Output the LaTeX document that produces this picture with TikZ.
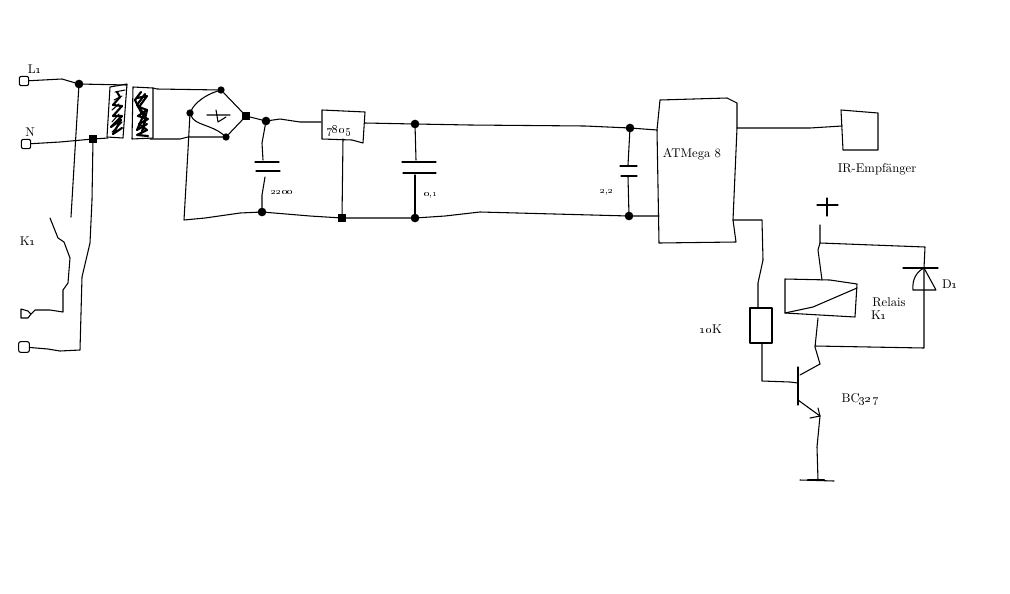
\documentclass[tikz,border=0pt]{standalone}
\tikzset{
  wire/.style={line width=0.8pt,black,line join=round,line cap=round},
  heavy/.style={line width=1.6pt,black,line join=round,line cap=round},
  junct/.style={circle,fill=black,inner sep=0pt,minimum size=6.5pt,outer sep=0pt},
  squarej/.style={rectangle,fill=black,inner sep=0pt,minimum size=5.5pt,outer sep=0pt},
  term/.style={draw=black,line width=0.8pt,fill=white,rounded corners=1.5pt,inner sep=0pt,minimum width=7pt,minimum height=7pt,outer sep=0pt},
  lab/.style={inner sep=0pt,font=\fontsize{9.5}{11}\selectfont,align=left},
  small/.style={inner sep=0pt,font=\fontsize{7.5}{9}\selectfont},
}
\newcommand{\os}[1]{\oldstylenums{#1}}
\begin{document}
\begin{tikzpicture}[x=0.75pt,y=-0.75pt]
\useasboundingbox (0,0) rectangle (1010,593);
% terminals
\node[term] (tL) at (24,81) {};
\node[term] (tN) at (26,144) {};
\coordinate (tK) at (31,314);
\draw[wire] (21,309) -- (21,318) -- (28,318) -- (tK) -- (28,311) -- cycle;
\node[term,minimum width=8pt,minimum height=8pt] (tB) at (24,347) {};
% junctions
\node[junct] (jL) at (79,84) {};
\node[squarej] (jN) at (93,139) {};
\node[junct,minimum size=5.5pt] (bT) at (221,90) {};
\node[junct,minimum size=5.5pt] (bL) at (190,113) {};
\node[junct,minimum size=5.5pt] (bB) at (226,137) {};
\node[squarej] (bR) at (246,116) {};
\node[junct] (j1t) at (266,121) {};
\node[junct] (j1b) at (262,212) {};
\node[squarej] (jR) at (342,218) {};
\node[junct] (j2t) at (415,124) {};
\node[junct] (j2b) at (415,218) {};
\node[junct] (j3t) at (630,128) {};
\node[junct] (j3b) at (629,216) {};
% named connection points
\coordinate (tp1) at (127,85);
\coordinate (tp2) at (108,138);
\coordinate (ts1) at (153,88);
\coordinate (ts2) at (150,139);
\coordinate (rin) at (321,122);
\coordinate (rout) at (365,123);
\coordinate (rgnd) at (343,139);
\coordinate (mT) at (657,130);
\coordinate (mB) at (659,216);
\coordinate (mI) at (737,128);
\coordinate (mO) at (733,220);
\coordinate (ir) at (842,126);
\coordinate (rT) at (758,308);
\coordinate (rB) at (762,343);
\coordinate (qB) at (798,383);
\coordinate (qC) at (820,364);
\coordinate (qE) at (820,416);
\coordinate (coilT) at (822,280);
\coordinate (coilB) at (818,318);
\coordinate (dT) at (924,268);
\coordinate (gnd) at (818,480);
% line and neutral
\draw[wire] (tL) -- (62,79) -- (jL) -- (tp1);
\draw[wire] (tN) -- (60,142) -- (jN) -- (tp2);
\draw[wire] (jL) -- (75,150) -- (71,217);
\draw[wire] (jN) -- (92,200) -- (90,243) -- (82,277) -- (80,350) -- (60,351) -- (48,349) -- (tB);
\draw[wire] (50,218) -- (58,238) -- (64,242) -- (70,258) -- (68,283) -- (63,290) -- (63,312) -- (50,310) -- (35,310) -- (tK);
% transformer primary
\draw[wire] (127,84) -- (110,87) -- (107,137) -- (123,138) -- cycle;
\draw[heavy] (117,92) -- (120,97) -- (113,105) -- (122,106) -- (113,116) -- (122,116) -- (111,127) -- (121,120) -- (113,134) -- (122,128);
\draw[wire] (115,92) -- (125,90) (112,110) -- (119,104) (112,122) -- (119,114) (114,100) -- (122,96) (112,132) -- (122,122);
% transformer secondary
\draw[wire] (133,87) -- (153,88) -- (153,138) -- (132,139) -- cycle;
\draw[heavy] (137,98) -- (147,96) -- (139,107) -- (147,110) -- (138,116) -- (148,119) -- (139,124) -- (147,130) -- (137,135) -- (148,136);
\draw[heavy] (145,94) -- (137,105) -- (144,114) -- (137,130) -- (147,124);
\draw[heavy] (141,92) -- (135,100) -- (141,112) -- (146,118) -- (142,132) -- (147,110);
\draw[wire] (ts1) -- (157,89) -- (bT);
\draw[wire] (ts2) -- (180,139) -- (188,137) -- (bB);
% bridge
\draw[wire] (bT) .. controls (205,95) and (195,103) .. (bL);
\draw[wire] (bL) .. controls (195,125) and (212,125) .. (bB);
\draw[wire] (bT) -- (bR) -- (bB);
\draw[wire] (207,115) -- (230,115) (216,110) -- (218,122) -- (226,117);
\draw[wire] (bR) -- (j1t);
\draw[wire] (bL) -- (188,150) -- (184,220) -- (205,218) -- (240,213) -- (j1b);
% first capacitor
\draw[wire] (j1t) -- (262,143) -- (263,160);
\draw[wire] (255,162) -- (279,162) (256,171) -- (280,171);
\draw[wire] (265,177) -- (262,195) -- (j1b);
% top rail
\draw[wire] (j1t) -- (280,119) -- (300,122) -- (rin);
\draw[wire] (rout) -- (j2t) -- (470,125) -- (585,126) -- (j3t) -- (mT);
% bottom rail
\draw[wire] (j1b) -- (310,216) -- (jR) -- (j2b) -- (445,216) -- (480,212) -- (j3b) -- (mB);
% regulator
\draw[wire] (322,110) -- (365,112) -- (363,143) -- (352,140) -- (322,139) -- cycle;
\draw[wire] (rgnd) -- (jR);
% second capacitor
\draw[wire] (j2t) -- (416,160);
\draw[wire] (402,162) -- (436,162) (403,173) -- (436,173);
\draw[wire] (415,175) -- (j2b);
% third capacitor
\draw[wire] (j3t) -- (628,165);
\draw[wire] (620,166) -- (637,166) (621,176) -- (637,176);
\draw[wire] (628,177) -- (j3b);
% microcontroller
\draw[wire] (660,100) -- (727,98) -- (737,103) -- (737,128) -- (733,220) -- (736,242) -- (659,243) -- (657,130) -- cycle;
\draw[wire] (mI) -- (810,128) -- (ir);
\draw[wire] (841,110) -- (878,113) -- (878,150) -- (843,150) -- cycle;
% base resistor
\draw[wire] (mO) -- (762,220) -- (763,260) -- (758,283) -- (rT);
\draw[wire] (750,308) -- (772,308) -- (772,343) -- (750,343) -- cycle;
\draw[wire] (rB) -- (762,381) -- (790,382) -- (qB);
% transistor
\draw[wire] (798,367) -- (798,405);
\draw[wire] (800,375) -- (qC);
\draw[wire] (798,400) -- (qE);
\draw[wire] (810,418) -- (qE) -- (818,408);
\draw[wire] (qC) -- (815,347) -- (coilB);
\draw[wire] (qE) -- (817,447) -- (gnd);
\draw[wire] (800,480) -- (834,481);
\draw[heavy] (808,480) -- (824,480);
% relay
\draw[wire] (785,279) -- (830,280) -- (857,284) -- (855,317) -- (785,313) -- cycle;
\draw[wire] (785,313) -- (813,307) -- (857,288);
% supply and diode
\draw[wire] (817,205) -- (838,205) (827,198) -- (827,216);
\draw[wire] (820,225) -- (820,243) -- (818,250) -- (coilT);
\draw[wire] (820,243) -- (925,247) -- (dT);
\draw[wire] (903,268) -- (938,268);
\draw[wire] (dT) -- (936,290) -- (913,290) .. controls (912,280) and (916,272) .. (dT);
\draw[wire] (dT) -- (924,348) -- (815,346);
% labels
\node[lab] (l1) at (35,69) {L\os{1}};
\node[lab] (l2) at (30,132) {N};
\node[lab] (l3) at (28,241) {K\os{1}};
\node[small] (l4) at (282,192) {\os{2200}};
\node[lab] (l5) at (339,131) {\os{7805}};
\node[small] (l6) at (431,195) {\os{0,1}};
\node[small] (l7) at (607,192) {\os{2,2}};
\node[lab] (l8) at (692,154) {ATMega 8};
\node[lab] (l9) at (877,169) {IR-Empfänger};
\node[lab] (l10) at (950,284) {D\os{1}};
\node[lab] (l11) at (889,302) {Relais};
\node[lab] (l12) at (879,315) {K\os{1}};
\node[lab] (l13) at (711,329) {\os{10}K};
\node[lab] (l14) at (860,399) {BC\os{327}};
\end{tikzpicture}
\end{document}
